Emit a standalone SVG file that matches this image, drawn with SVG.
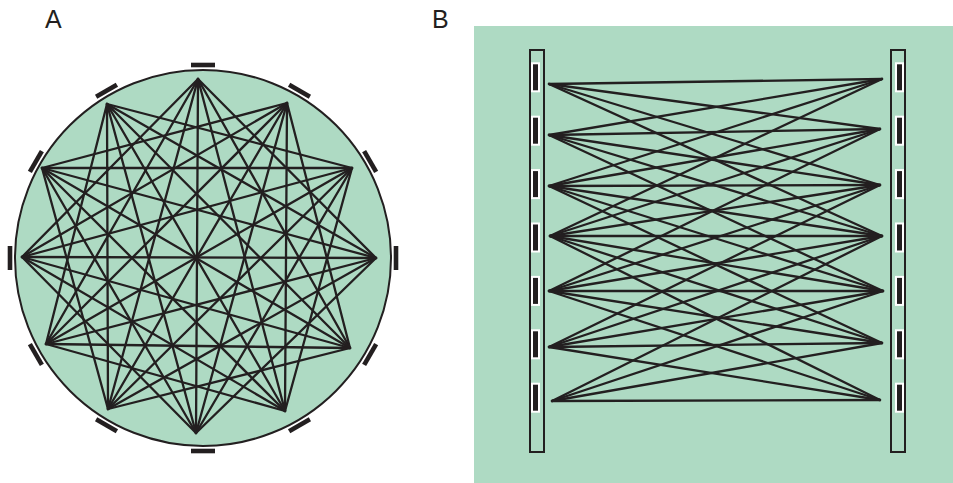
<svg xmlns="http://www.w3.org/2000/svg" width="953" height="483" viewBox="0 0 953 483">
<style>
.lbl{font-family:"Liberation Sans",Arial,sans-serif;font-size:25px;fill:#231f20}
.bg{fill:#aedac3}
.e line{stroke:#231f20;stroke-width:2.3;stroke-linecap:round}
.tick{fill:#231f20}
.bar{fill:#aedac3;stroke:#231f20;stroke-width:2}
.ew{fill:#ffffff}
.eb{fill:#231f20}
</style>
<defs>
<rect id="tk" x="-12" y="-2.3" width="24" height="4.6" class="tick"/>
<g id="elec"><rect x="0" y="-15" width="9" height="30" class="ew"/><rect x="2" y="-13" width="5" height="26" class="eb"/></g>
</defs>
<text class="lbl" x="45" y="28">A</text>
<text class="lbl" x="432" y="28">B</text>
<g id="panelA">
<circle id="circleA" cx="203" cy="258" r="188" class="bg" stroke="#231f20" stroke-width="2"/>
<g id="ticksA">
<use href="#tk" transform="rotate(0 203 258) translate(203 65)"/>
<use href="#tk" transform="rotate(30 203 258) translate(203 65)"/>
<use href="#tk" transform="rotate(60 203 258) translate(203 65)"/>
<use href="#tk" transform="rotate(90 203 258) translate(203 65)"/>
<use href="#tk" transform="rotate(120 203 258) translate(203 65)"/>
<use href="#tk" transform="rotate(150 203 258) translate(203 65)"/>
<use href="#tk" transform="rotate(180 203 258) translate(203 65)"/>
<use href="#tk" transform="rotate(210 203 258) translate(203 65)"/>
<use href="#tk" transform="rotate(240 203 258) translate(203 65)"/>
<use href="#tk" transform="rotate(270 203 258) translate(203 65)"/>
<use href="#tk" transform="rotate(300 203 258) translate(203 65)"/>
<use href="#tk" transform="rotate(330 203 258) translate(203 65)"/>
</g>
</g>
<g id="panelB">
<rect x="474" y="26" width="479" height="457" class="bg"/>
<g id="leftBar">
<rect x="530" y="50" width="14" height="402" class="bar"/>
<use href="#elec" x="531" y="77.3"/>
<use href="#elec" x="531" y="130.7"/>
<use href="#elec" x="531" y="184.1"/>
<use href="#elec" x="531" y="237.5"/>
<use href="#elec" x="531" y="290.9"/>
<use href="#elec" x="531" y="344.3"/>
<use href="#elec" x="531" y="397.7"/>
</g>
<g id="rightBar">
<rect x="891" y="50" width="14" height="402" class="bar"/>
<use href="#elec" x="895" y="77.3"/>
<use href="#elec" x="895" y="130.7"/>
<use href="#elec" x="895" y="184.1"/>
<use href="#elec" x="895" y="237.5"/>
<use href="#elec" x="895" y="290.9"/>
<use href="#elec" x="895" y="344.3"/>
<use href="#elec" x="895" y="397.7"/>
</g>
</g>
<g id="connectors" class="e">
<g id="edgesA">
<line x1="198" y1="79" x2="376" y2="258"/><line x1="198" y1="79" x2="350" y2="348"/><line x1="198" y1="79" x2="285" y2="411"/><line x1="198" y1="79" x2="196" y2="433"/><line x1="198" y1="79" x2="108" y2="409"/><line x1="198" y1="79" x2="46" y2="344"/><line x1="198" y1="79" x2="22" y2="257"/>
<line x1="287" y1="103" x2="350" y2="348"/><line x1="287" y1="103" x2="285" y2="411"/><line x1="287" y1="103" x2="196" y2="433"/><line x1="287" y1="103" x2="108" y2="409"/><line x1="287" y1="103" x2="46" y2="344"/><line x1="287" y1="103" x2="22" y2="257"/><line x1="287" y1="103" x2="42" y2="168"/>
<line x1="352" y1="168" x2="285" y2="411"/><line x1="352" y1="168" x2="196" y2="433"/><line x1="352" y1="168" x2="108" y2="409"/><line x1="352" y1="168" x2="46" y2="344"/><line x1="352" y1="168" x2="22" y2="257"/><line x1="352" y1="168" x2="42" y2="168"/><line x1="352" y1="168" x2="107" y2="104"/>
<line x1="376" y1="258" x2="196" y2="433"/><line x1="376" y1="258" x2="108" y2="409"/><line x1="376" y1="258" x2="46" y2="344"/><line x1="376" y1="258" x2="22" y2="257"/><line x1="376" y1="258" x2="42" y2="168"/><line x1="376" y1="258" x2="107" y2="104"/>
<line x1="350" y1="348" x2="108" y2="409"/><line x1="350" y1="348" x2="46" y2="344"/><line x1="350" y1="348" x2="22" y2="257"/><line x1="350" y1="348" x2="42" y2="168"/><line x1="350" y1="348" x2="107" y2="104"/>
<line x1="285" y1="411" x2="46" y2="344"/><line x1="285" y1="411" x2="22" y2="257"/><line x1="285" y1="411" x2="42" y2="168"/><line x1="285" y1="411" x2="107" y2="104"/>
<line x1="196" y1="433" x2="22" y2="257"/><line x1="196" y1="433" x2="42" y2="168"/><line x1="196" y1="433" x2="107" y2="104"/>
<line x1="108" y1="409" x2="42" y2="168"/><line x1="108" y1="409" x2="107" y2="104"/>
<line x1="46" y1="344" x2="107" y2="104"/>
</g>
<g id="edgesB">
<line x1="549" y1="84" x2="882" y2="79"/><line x1="549" y1="84" x2="880" y2="129"/><line x1="549" y1="84" x2="880" y2="185"/><line x1="549" y1="84" x2="882" y2="236"/>
<line x1="549" y1="135" x2="882" y2="79"/><line x1="549" y1="135" x2="880" y2="129"/><line x1="549" y1="135" x2="880" y2="185"/><line x1="549" y1="135" x2="882" y2="236"/><line x1="549" y1="135" x2="883" y2="291"/>
<line x1="549" y1="186" x2="882" y2="79"/><line x1="549" y1="186" x2="880" y2="129"/><line x1="549" y1="186" x2="880" y2="185"/><line x1="549" y1="186" x2="882" y2="236"/><line x1="549" y1="186" x2="883" y2="291"/><line x1="549" y1="186" x2="882" y2="343"/>
<line x1="550" y1="236" x2="882" y2="79"/><line x1="550" y1="236" x2="880" y2="129"/><line x1="550" y1="236" x2="880" y2="185"/><line x1="550" y1="236" x2="882" y2="236"/><line x1="550" y1="236" x2="883" y2="291"/><line x1="550" y1="236" x2="882" y2="343"/><line x1="550" y1="236" x2="880" y2="400"/>
<line x1="549" y1="291" x2="880" y2="129"/><line x1="549" y1="291" x2="880" y2="185"/><line x1="549" y1="291" x2="882" y2="236"/><line x1="549" y1="291" x2="883" y2="291"/><line x1="549" y1="291" x2="882" y2="343"/><line x1="549" y1="291" x2="880" y2="400"/>
<line x1="549" y1="347" x2="880" y2="185"/><line x1="549" y1="347" x2="882" y2="236"/><line x1="549" y1="347" x2="883" y2="291"/><line x1="549" y1="347" x2="882" y2="343"/><line x1="549" y1="347" x2="880" y2="400"/>
<line x1="552" y1="401" x2="882" y2="236"/><line x1="552" y1="401" x2="883" y2="291"/><line x1="552" y1="401" x2="882" y2="343"/><line x1="552" y1="401" x2="880" y2="400"/>
</g>
</g>
</svg>
